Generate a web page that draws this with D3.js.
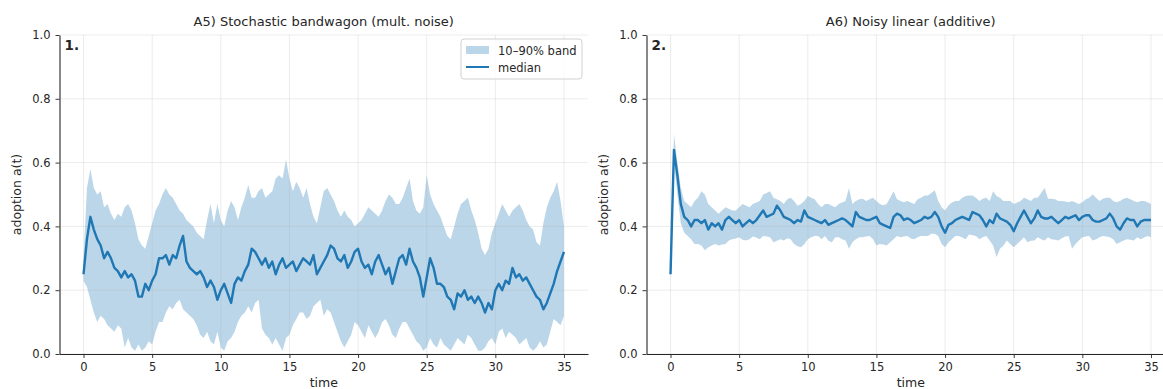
<!DOCTYPE html>
<html><head><meta charset="utf-8">
<script src="https://cdn.jsdelivr.net/npm/d3@7"></script>
<style>
body{margin:0;background:#fff}
svg{display:block}
text{font-family:"DejaVu Sans",sans-serif;fill:#262626}
</style>
</head><body>
<svg id="chart" width="1163" height="389"></svg>
<script>
// ---- data ----
const timeStep = 0.25;            // sampling of the time axis (0 .. 35)
const xTicks = [0, 5, 10, 15, 20, 25, 30, 35];
const yTicks = [0.0, 0.2, 0.4, 0.6, 0.8, 1.0];
const titles = ["A5) Stochastic bandwagon (mult. noise)", "A6) Noisy linear (additive)"];
const panelTags = ["1.", "2."];
const legendLabels = ["10\u201390% band", "median"];
const xLabel = "time";
const yLabel = "adoption a(t)";

const a5Median = [
0.25,0.36,0.43,0.39,0.36,0.34,0.30,0.32,
0.30,0.27,0.26,0.24,0.26,0.24,0.25,0.23,
0.18,0.18,0.22,0.20,0.23,0.25,0.30,0.30,
0.31,0.28,0.31,0.30,0.34,0.37,0.29,0.27,
0.26,0.25,0.26,0.24,0.21,0.23,0.21,0.17,
0.20,0.22,0.19,0.16,0.22,0.24,0.23,0.26,
0.28,0.33,0.32,0.30,0.28,0.30,0.27,0.29,
0.25,0.28,0.30,0.27,0.28,0.29,0.26,0.28,
0.30,0.29,0.28,0.31,0.25,0.27,0.29,0.31,
0.34,0.33,0.30,0.29,0.31,0.27,0.29,0.32,
0.33,0.29,0.27,0.28,0.25,0.29,0.31,0.28,
0.25,0.27,0.22,0.26,0.30,0.31,0.28,0.33,
0.29,0.27,0.24,0.18,0.24,0.30,0.27,0.22,
0.22,0.21,0.18,0.17,0.14,0.19,0.18,0.20,
0.17,0.18,0.16,0.18,0.16,0.13,0.16,0.14,
0.20,0.22,0.20,0.23,0.22,0.27,0.24,0.25,
0.23,0.24,0.22,0.20,0.18,0.17,0.14,0.16,
0.19,0.22,0.26,0.29,0.32];
const a5Hi = [
0.30,0.52,0.58,0.52,0.50,0.51,0.46,0.47,
0.44,0.42,0.44,0.43,0.46,0.47,0.45,0.41,
0.36,0.34,0.33,0.37,0.41,0.45,0.47,0.50,
0.52,0.50,0.49,0.47,0.45,0.44,0.42,0.41,
0.40,0.38,0.37,0.36,0.42,0.47,0.41,0.47,
0.42,0.40,0.45,0.48,0.46,0.42,0.46,0.49,
0.53,0.49,0.49,0.51,0.52,0.49,0.50,0.51,
0.55,0.56,0.55,0.61,0.55,0.51,0.54,0.52,
0.49,0.52,0.47,0.43,0.41,0.46,0.51,0.52,
0.50,0.48,0.45,0.43,0.45,0.43,0.42,0.40,
0.41,0.42,0.44,0.46,0.45,0.44,0.43,0.45,
0.48,0.50,0.49,0.47,0.47,0.49,0.52,0.55,
0.48,0.45,0.44,0.46,0.56,0.50,0.47,0.45,
0.43,0.40,0.37,0.36,0.40,0.44,0.47,0.48,
0.49,0.45,0.42,0.38,0.33,0.31,0.33,0.38,
0.41,0.44,0.47,0.45,0.43,0.45,0.46,0.47,
0.45,0.42,0.40,0.39,0.35,0.34,0.41,0.46,
0.49,0.51,0.54,0.48,0.40];
const a5Lo = [
0.23,0.21,0.17,0.13,0.10,0.12,0.11,0.09,
0.08,0.07,0.09,0.08,0.02,0.05,0.02,0.01,
0.03,0.01,0.02,0.04,0.03,0.07,0.10,0.10,
0.13,0.15,0.14,0.16,0.17,0.14,0.13,0.12,
0.11,0.09,0.06,0.05,0.07,0.04,0.03,0.07,
0.02,0.01,0.04,0.05,0.07,0.10,0.12,0.13,
0.15,0.13,0.16,0.17,0.08,0.06,0.05,0.03,
0.05,0.03,0.01,0.05,0.06,0.09,0.11,0.13,
0.13,0.11,0.12,0.15,0.16,0.17,0.12,0.14,
0.13,0.10,0.07,0.04,0.02,0.04,0.06,0.10,
0.09,0.07,0.05,0.09,0.07,0.05,0.07,0.10,
0.11,0.09,0.06,0.05,0.08,0.10,0.10,0.08,
0.06,0.04,0.03,0.01,0.02,0.05,0.03,0.02,
0.05,0.03,0.02,0.01,0.03,0.05,0.04,0.03,
0.06,0.05,0.03,0.01,0.01,0.02,0.04,0.05,
0.03,0.07,0.08,0.05,0.07,0.06,0.05,0.03,
0.04,0.05,0.02,0.01,0.02,0.04,0.02,0.03,
0.07,0.11,0.10,0.09,0.12];

const a6Median = [
0.25,0.64,0.56,0.47,0.43,0.42,0.40,0.42,
0.42,0.41,0.42,0.39,0.41,0.40,0.41,0.39,
0.42,0.43,0.42,0.41,0.42,0.40,0.41,0.42,
0.41,0.42,0.435,0.45,0.43,0.435,0.44,0.465,
0.45,0.43,0.425,0.42,0.41,0.42,0.415,0.45,
0.43,0.425,0.42,0.415,0.41,0.42,0.405,0.41,
0.415,0.42,0.425,0.42,0.41,0.40,0.445,0.43,
0.425,0.42,0.42,0.425,0.43,0.41,0.405,0.40,
0.395,0.43,0.44,0.435,0.42,0.425,0.42,0.41,
0.415,0.42,0.43,0.425,0.43,0.445,0.43,0.40,
0.38,0.405,0.41,0.42,0.425,0.43,0.425,0.42,
0.445,0.44,0.435,0.42,0.40,0.42,0.41,0.44,
0.425,0.42,0.415,0.405,0.385,0.41,0.43,0.45,
0.43,0.41,0.425,0.45,0.43,0.425,0.425,0.43,
0.42,0.41,0.42,0.43,0.425,0.43,0.435,0.42,
0.43,0.435,0.435,0.42,0.415,0.415,0.42,0.425,
0.44,0.425,0.40,0.39,0.41,0.425,0.42,0.42,
0.40,0.415,0.42,0.42,0.42];
const a6Hi = [
0.27,0.69,0.60,0.52,0.48,0.47,0.46,0.48,
0.49,0.51,0.50,0.47,0.46,0.45,0.44,0.45,
0.46,0.455,0.45,0.45,0.46,0.47,0.465,0.46,
0.47,0.475,0.48,0.50,0.505,0.51,0.49,0.485,
0.48,0.47,0.485,0.49,0.48,0.465,0.47,0.48,
0.495,0.49,0.485,0.47,0.46,0.47,0.47,0.465,
0.46,0.47,0.475,0.48,0.52,0.47,0.48,0.485,
0.487,0.48,0.485,0.49,0.48,0.47,0.466,0.47,
0.49,0.51,0.485,0.48,0.476,0.48,0.475,0.47,
0.485,0.49,0.497,0.497,0.505,0.513,0.48,0.46,
0.45,0.466,0.475,0.48,0.48,0.49,0.495,0.497,
0.497,0.49,0.48,0.487,0.49,0.48,0.51,0.495,
0.49,0.48,0.48,0.48,0.47,0.475,0.48,0.49,
0.485,0.48,0.49,0.49,0.505,0.52,0.487,0.487,
0.485,0.48,0.48,0.478,0.476,0.48,0.475,0.47,
0.476,0.485,0.49,0.50,0.49,0.48,0.487,0.49,
0.49,0.48,0.476,0.48,0.487,0.49,0.485,0.48,
0.476,0.48,0.48,0.476,0.47];
const a6Lo = [
0.23,0.60,0.50,0.41,0.38,0.37,0.36,0.345,
0.345,0.34,0.325,0.335,0.34,0.345,0.34,0.343,
0.345,0.356,0.36,0.362,0.366,0.358,0.356,0.36,
0.368,0.365,0.36,0.37,0.368,0.366,0.35,0.355,
0.36,0.356,0.363,0.36,0.345,0.338,0.335,0.345,
0.36,0.366,0.37,0.37,0.36,0.37,0.355,0.35,
0.366,0.366,0.36,0.356,0.33,0.35,0.36,0.366,
0.366,0.368,0.37,0.36,0.34,0.345,0.343,0.34,
0.35,0.36,0.37,0.366,0.368,0.37,0.362,0.36,
0.366,0.37,0.37,0.37,0.377,0.377,0.37,0.345,
0.335,0.35,0.36,0.37,0.37,0.365,0.36,0.375,
0.372,0.37,0.36,0.366,0.37,0.356,0.34,0.304,
0.33,0.34,0.356,0.345,0.335,0.345,0.355,0.366,
0.35,0.355,0.356,0.366,0.36,0.356,0.366,0.36,
0.358,0.356,0.363,0.368,0.37,0.33,0.345,0.356,
0.366,0.368,0.37,0.356,0.36,0.366,0.37,0.368,
0.366,0.36,0.345,0.35,0.356,0.36,0.358,0.356,
0.366,0.36,0.365,0.37,0.366];

// ---- drawing ----
const BLUE = "#1f77b4";
const svg = d3.select("#chart");
const plotTop = 35, plotBottom = 354;

const panels = [
  {left: 59.5, right: 588, median: a5Median, lo: a5Lo, hi: a5Hi, legend: true},
  {left: 646.5, right: 1175, median: a6Median, lo: a6Lo, hi: a6Hi, legend: false}
];

panels.forEach((p, k) => {
  const x = d3.scaleLinear().domain([-1.75, 36.75]).range([p.left, p.right]);
  const y = d3.scaleLinear().domain([0, 1]).range([plotBottom, plotTop]);
  const g = svg.append("g");
  const pts = p.median.map((m, i) => ({t: i * timeStep, m, lo: p.lo[i], hi: p.hi[i]}));

  // band
  g.append("path").datum(pts)
    .attr("d", d3.area().x(d => x(d.t)).y0(d => y(d.lo)).y1(d => y(d.hi)))
    .attr("fill", BLUE).attr("fill-opacity", 0.3).attr("stroke", "none");

  // grid
  const grid = g.append("g").attr("stroke", "#b0b0b0").attr("stroke-opacity", 0.3).attr("stroke-width", 0.8);
  grid.selectAll("line.v").data(xTicks).join("line")
    .attr("x1", d => x(d)).attr("x2", d => x(d)).attr("y1", plotTop).attr("y2", plotBottom);
  grid.selectAll("line.h").data(yTicks).join("line")
    .attr("x1", p.left).attr("x2", p.right).attr("y1", d => y(d)).attr("y2", d => y(d));

  // median
  g.append("path").datum(pts)
    .attr("d", d3.line().x(d => x(d.t)).y(d => y(d.m)))
    .attr("fill", "none").attr("stroke", BLUE).attr("stroke-width", 2.4).attr("stroke-linejoin", "round");

  // axes
  const ax = g.append("g").attr("transform", `translate(0,${plotBottom})`)
    .call(d3.axisBottom(x).tickValues(xTicks).tickSize(4).tickSizeOuter(0).tickPadding(5).tickFormat(d3.format("d")));
  const ay = g.append("g").attr("transform", `translate(${p.left},0)`)
    .call(d3.axisLeft(y).tickValues(yTicks).tickSize(4).tickSizeOuter(0).tickPadding(5).tickFormat(d3.format(".1f")));
  [ax, ay].forEach(a => {
    a.selectAll("text").attr("font-size", 11.5).attr("font-family", "DejaVu Sans").attr("fill", "#262626");
    a.selectAll("line").attr("stroke", "#262626").attr("stroke-width", 0.9);
    a.select(".domain").attr("stroke", "#262626").attr("stroke-width", 1.1);
  });

  const cx = (p.left + p.right) / 2;
  g.append("text").attr("x", cx).attr("y", 26).attr("text-anchor", "middle")
    .attr("font-size", 13).text(titles[k]);
  g.append("text").attr("x", cx).attr("y", 387).attr("text-anchor", "middle")
    .attr("font-size", 12.5).text(xLabel);
  g.append("text").attr("transform", `translate(${p.left - 39},${(plotTop + plotBottom) / 2}) rotate(-90)`)
    .attr("text-anchor", "middle").attr("font-size", 12.5).text(yLabel);
  g.append("text").attr("x", p.left + 5).attr("y", 50).attr("font-size", 13.5)
    .attr("font-weight", "bold").attr("fill", "#000").text(panelTags[k]);

  if (p.legend) {
    const lg = g.append("g").attr("transform", "translate(461,39)");
    lg.append("rect").attr("width", 121).attr("height", 40).attr("rx", 3)
      .attr("fill", "#fff").attr("fill-opacity", 0.8).attr("stroke", "#cccccc").attr("stroke-width", 0.9);
    lg.append("rect").attr("x", 5).attr("y", 7).attr("width", 23).attr("height", 8)
      .attr("fill", BLUE).attr("fill-opacity", 0.3);
    lg.append("line").attr("x1", 5).attr("x2", 28).attr("y1", 28).attr("y2", 28)
      .attr("stroke", BLUE).attr("stroke-width", 2);
    lg.append("text").attr("x", 37).attr("y", 15.5).attr("font-size", 11.5).text(legendLabels[0]);
    lg.append("text").attr("x", 37).attr("y", 32.5).attr("font-size", 11.5).text(legendLabels[1]);
  }
});
</script>
</body></html>
